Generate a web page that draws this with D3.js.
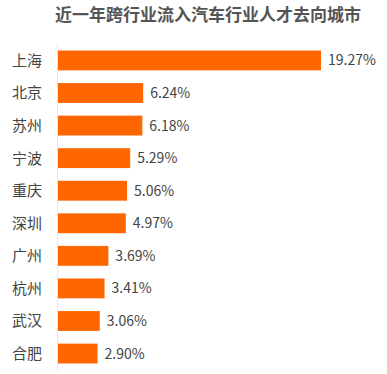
<!DOCTYPE html>
<html lang="zh">
<head>
<meta charset="utf-8">
<script src="https://cdn.jsdelivr.net/npm/d3@7"></script>
<style>
  body { margin: 0; background: #fff; }
  text { font-family: "Noto Sans CJK SC", "Noto Sans", sans-serif; }
</style>
</head>
<body>
<script>
var cities = ["上海", "北京", "苏州", "宁波", "重庆", "深圳", "广州", "杭州", "武汉", "合肥"];
var shares = [19.27, 6.24, 6.18, 5.29, 5.06, 4.97, 3.69, 3.41, 3.06, 2.90];
var title = "近一年跨行业流入汽车行业人才去向城市";

var w = 387, h = 374;
var margin = {top: 44, right: 66, bottom: 4, left: 58};

var svg = d3.select("body").append("svg")
  .attr("width", w)
  .attr("height", h);

var x = d3.scaleLinear()
  .domain([0, 19.27])
  .range([margin.left, 321]);

var y = d3.scaleBand()
  .domain(cities)
  .range([margin.top, h - margin.bottom])
  .paddingInner(0.39)
  .paddingOuter(0.2);

svg.append("text")
  .attr("x", 208)
  .attr("y", 21)
  .attr("text-anchor", "middle")
  .style("font-size", "17px")
  .style("font-weight", "bold")
  .style("fill", "#555")
  .text(title);

svg.append("line")
  .attr("x1", margin.left - 0.5).attr("x2", margin.left - 0.5)
  .attr("y1", margin.top).attr("y2", h - margin.bottom)
  .style("stroke", "#e6e6e6");

svg.selectAll("rect.bar")
  .data(cities)
  .enter().append("rect")
  .attr("class", "bar")
  .attr("x", x(0))
  .attr("y", function(d) { return y(d); })
  .attr("width", function(d, i) { return x(shares[i]) - x(0); })
  .attr("height", y.bandwidth())
  .style("fill", "#ff6600");

svg.selectAll("text.cat")
  .data(cities)
  .enter().append("text")
  .attr("class", "cat")
  .attr("x", 12)
  .attr("y", function(d) { return y(d) + y.bandwidth() / 2; })
  .attr("dy", "0.36em")
  .style("font-size", "15px")
  .style("fill", "#444")
  .text(function(d) { return d; });

svg.selectAll("text.val")
  .data(cities)
  .enter().append("text")
  .attr("class", "val")
  .attr("x", function(d, i) { return x(shares[i]) + 7; })
  .attr("y", function(d) { return y(d) + y.bandwidth() / 2; })
  .attr("dy", "0.36em")
  .style("font-size", "14px")
  .style("fill", "#444")
  .text(function(d, i) { return shares[i].toFixed(2) + "%"; });
</script>
</body>
</html>
